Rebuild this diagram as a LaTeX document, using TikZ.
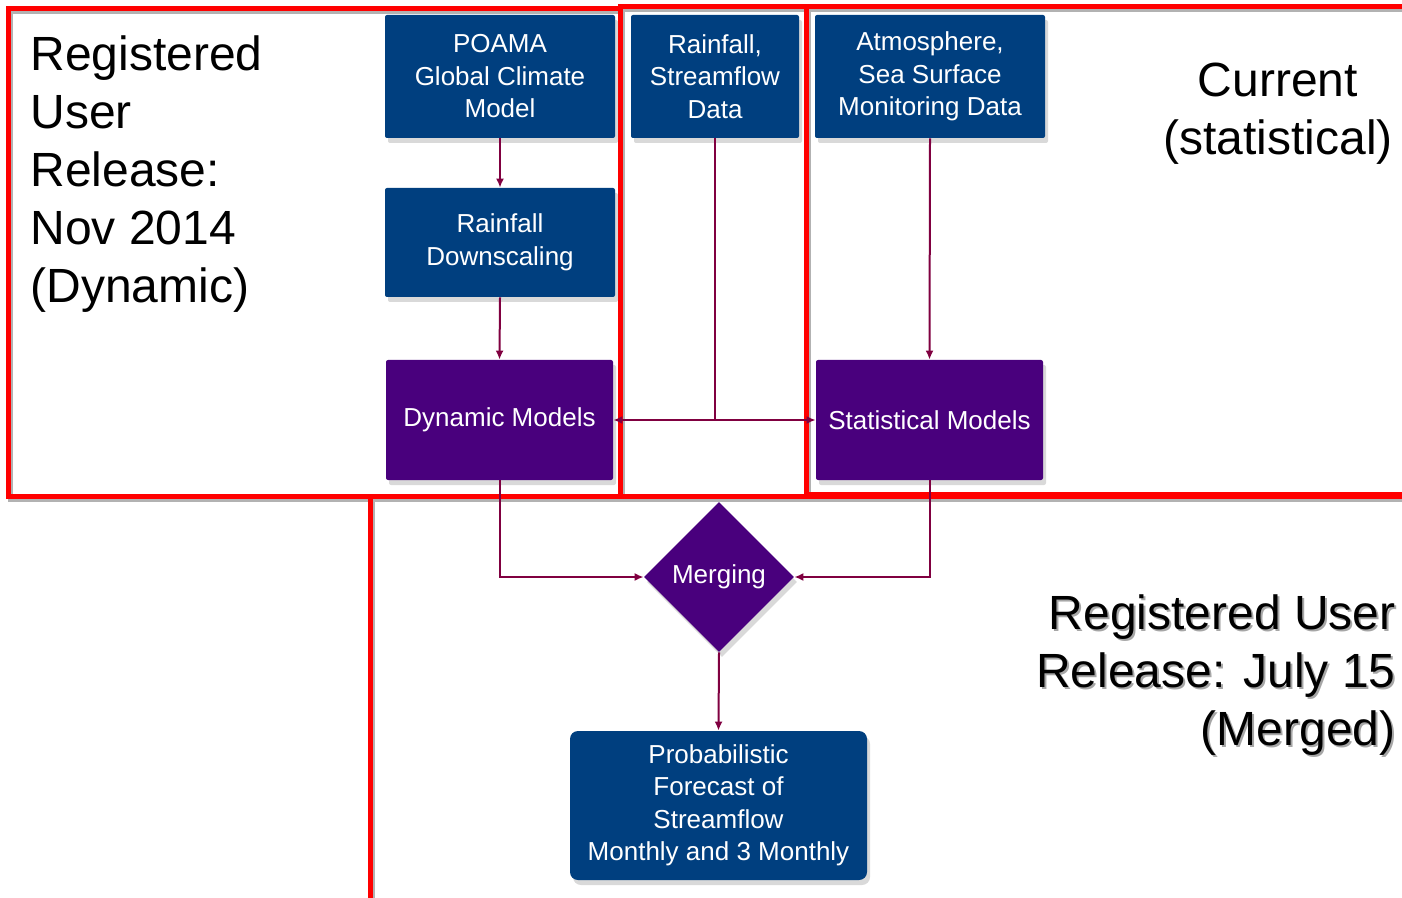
\documentclass[tikz,border=0pt]{standalone}
\usepackage{fontspec}
\setmainfont{Liberation Sans}
\usetikzlibrary{shapes.geometric,arrows.meta,shadows}
\definecolor{boxblue}{RGB}{0,63,127}
\definecolor{boxpurple}{RGB}{73,0,125}
\definecolor{conn}{RGB}{128,0,64}
\definecolor{redline}{RGB}{255,0,0}
\tikzset{
  bluebox/.style={fill=boxblue, text=white, align=center, inner sep=0pt,
    font=\fontsize{13}{16.25}\selectfont, rounded corners=1pt,
    drop shadow={shadow xshift=1.5pt, shadow yshift=-2.5pt, opacity=0.3}},
  purplebox/.style={bluebox, fill=boxpurple},
  conn/.style={draw=conn, line width=1pt, -{Latex[length=4.5pt,width=4pt]}},
  redframe/.style={draw=redline, line width=2.5pt},
  redshadow/.style={draw=black!30, line width=2.5pt},
  bigtext/.style={font=\fontsize{24}{29}\selectfont, inner sep=0pt}
}
\begin{document}
\begin{tikzpicture}[x=0.5pt,y=-0.5pt]
\useasboundingbox (0,0) rectangle (1402,898);
% red frame shadows
\begin{scope}[shift={(2,3)}]
\draw[redshadow] (620,9) -- (8,9) -- (8,496) -- (806,496);
\draw[redshadow] (620,494) -- (620,7) -- (1402,7);
\draw[redshadow] (806,7) -- (806,494) -- (1402,494);
\draw[redshadow] (370,898) -- (370,496) -- (1402,496);
\end{scope}
% red frames
\draw[redframe] (620,9) -- (8,9) -- (8,496) -- (806,496);
\draw[redframe] (620,494) -- (620,7) -- (1402,7);
\draw[redframe] (806,7) -- (806,494) -- (1402,494);
\draw[redframe] (370,900) -- (370,496) -- (1402,496);
\draw[draw=redline!50, line width=2.5pt] (370,902) -- (1402,902);

% nodes
\node[bluebox, minimum width=115pt, minimum height=61.5pt] (poama) at (500,76.5) {POAMA\\Global Climate\\Model};
\node[bluebox, minimum width=84pt, minimum height=61.5pt] (data) at (715,76.5) {Rainfall,\\Streamflow\\Data};
\node[bluebox, minimum width=115pt, minimum height=61.5pt] (atmo) at (930,76.5) {Atmosphere,\\Sea Surface\\Monitoring Data};
\node[bluebox, minimum width=115pt, minimum height=54.5pt] (down) at (500,242.5) {Rainfall\\Downscaling};
\node[purplebox, minimum width=113.5pt, minimum height=60pt] (dyn) at (499.5,420) {Dynamic Models};
\node[purplebox, minimum width=113.5pt, minimum height=60pt] (stat) at (929.5,420) {Statistical Models};
\node[purplebox, diamond, rounded corners=0pt, minimum width=75pt, minimum height=75pt] (merge) at (719,577) {Merging};
\node[bluebox, rounded corners=4pt, minimum width=148.5pt, minimum height=74.5pt] (prob) at (718.5,805.5) {Probabilistic\\Forecast of\\Streamflow\\Monthly and 3 Monthly};

% connectors
\draw[conn] (poama.south) -- (down.north);
\draw[conn] (down.south) -- (dyn.north);
\draw[conn] (data.south) |- (dyn.east);
\draw[conn] (data.south) |- (stat.west);
\draw[conn] (atmo.south) -- (stat.north);
\draw[conn] (dyn.south) |- (merge.west);
\draw[conn] (stat.south) |- (merge.east);
\draw[conn] (merge.south) -- (prob.north);

% labels
\node[bigtext, anchor=north west, align=left] (lbldyn) at (30,35) {Registered\\User\\Release:\\Nov 2014\\(Dynamic)};
\node[bigtext, anchor=north, align=center] (lblcur) at (1278,63) {Current\\(statistical)};
\node[bigtext, anchor=north east, align=right, text=black!35] (lblmergeshadow) at (1398,596) {Registered User\\Release: July 15\\(Merged)};
\node[bigtext, anchor=north east, align=right] (lblmerge) at (1396,594) {Registered User\\Release: July 15\\(Merged)};
\end{tikzpicture}
\end{document}
